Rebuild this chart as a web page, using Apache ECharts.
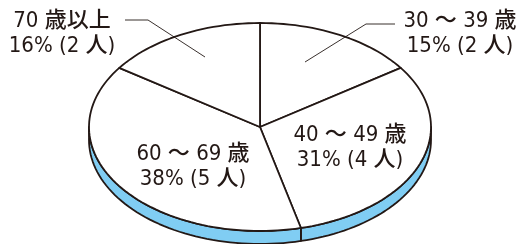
<!DOCTYPE html>
<html>
<head>
<meta charset="utf-8">
<script src="https://cdn.jsdelivr.net/npm/echarts@6/dist/echarts.min.js"></script>
<style>
  html, body { margin: 0; padding: 0; background: #fff; }
  #main { width: 518px; height: 244px; }
</style>
</head>
<body>
<div id="main"></div>
<script>
// 年齢層ごとの人数
var categories = ['30 ～ 39 歳', '40 ～ 49 歳', '60 ～ 69 歳', '70 歳以上'];
var counts = [2, 4, 5, 2];
var percentLabels = ['15%', '31%', '38%', '16%'];

// 楕円の形 (3D風の円グラフ)
var cx = 260, cy = 127, rx = 171, ry = 104, depth = 13;
var ink = '#231815';
var sideColor = '#80cdf3';
var font = '500 22px "Liberation Sans Narrow", "DejaVu Sans Condensed", "Noto Sans CJK JP", sans-serif';

// ラベル位置 (中心) と引き出し線
var labelPos = [
  {x: 460, y: 34, line: [[395, 24], [366, 24], [305, 62]]},
  {x: 350, y: 148},
  {x: 193, y: 167},
  {x: 62, y: 34, line: [[125, 20], [148, 20], [205, 57]]}
];

var total = counts.reduce(function (a, b) { return a + b; }, 0);
var starts = [];
var acc = 0;
counts.forEach(function (v) { starts.push(acc); acc += v; });

function pt(t, dy) {
  var r = t * Math.PI / 180;
  return [cx + rx * Math.cos(r), cy - ry * Math.sin(r) + (dy || 0)];
}

function arcPoints(a1, a2, dy) {
  // a1 から a2 まで (度) を細かく刻む
  var pts = [];
  var n = Math.max(2, Math.ceil(Math.abs(a2 - a1) / 2));
  for (var i = 0; i <= n; i++) {
    pts.push(pt(a1 + (a2 - a1) * i / n, dy));
  }
  return pts;
}

var myChart = echarts.init(document.getElementById('main'), null, {renderer: 'canvas'});

myChart.setOption({
  animation: false,
  series: [{
    type: 'custom',
    coordinateSystem: 'none',
    data: counts,
    renderItem: function (params, api) {
      var i = params.dataIndex;
      var v = api.value(0);
      var a1 = 90 - 360 * starts[i] / total;
      var a2 = 90 - 360 * (starts[i] + v) / total;
      var children = [];

      // 側面 (下半分だけ見える)
      var s1 = Math.min(a1, 0), s2 = Math.max(a2, -180);
      if (s1 > s2) {
        var top = arcPoints(s1, s2, 0);
        var bottom = arcPoints(s2, s1, depth);
        children.push({
          type: 'polygon',
          z2: 1,
          shape: {points: top.concat(bottom)},
          style: {fill: sideColor, stroke: ink, lineWidth: 1.8, lineJoin: 'round'}
        });
      }

      // 上面
      var face = [[cx, cy]].concat(arcPoints(a1, a2, 0));
      children.push({
        type: 'polygon',
        z2: 2,
        shape: {points: face},
        style: {fill: '#fff', stroke: ink, lineWidth: 1.8, lineJoin: 'round'}
      });

      var lp = labelPos[i];
      children.push({
        type: 'text',
        z2: 5,
        x: lp.x,
        y: lp.y,
        style: {
          text: categories[i] + '\n' + percentLabels[i] + ' (' + v + ' 人)',
          font: font,
          fill: ink,
          align: 'center',
          verticalAlign: 'middle',
          lineHeight: 25
        }
      });
      if (lp.line) {
        children.push({
          type: 'polyline',
          z2: 6,
          shape: {points: lp.line},
          style: {stroke: ink, lineWidth: 0.9, fill: null}
        });
      }
      return {type: 'group', children: children};
    }
  }]
});
</script>
</body>
</html>
